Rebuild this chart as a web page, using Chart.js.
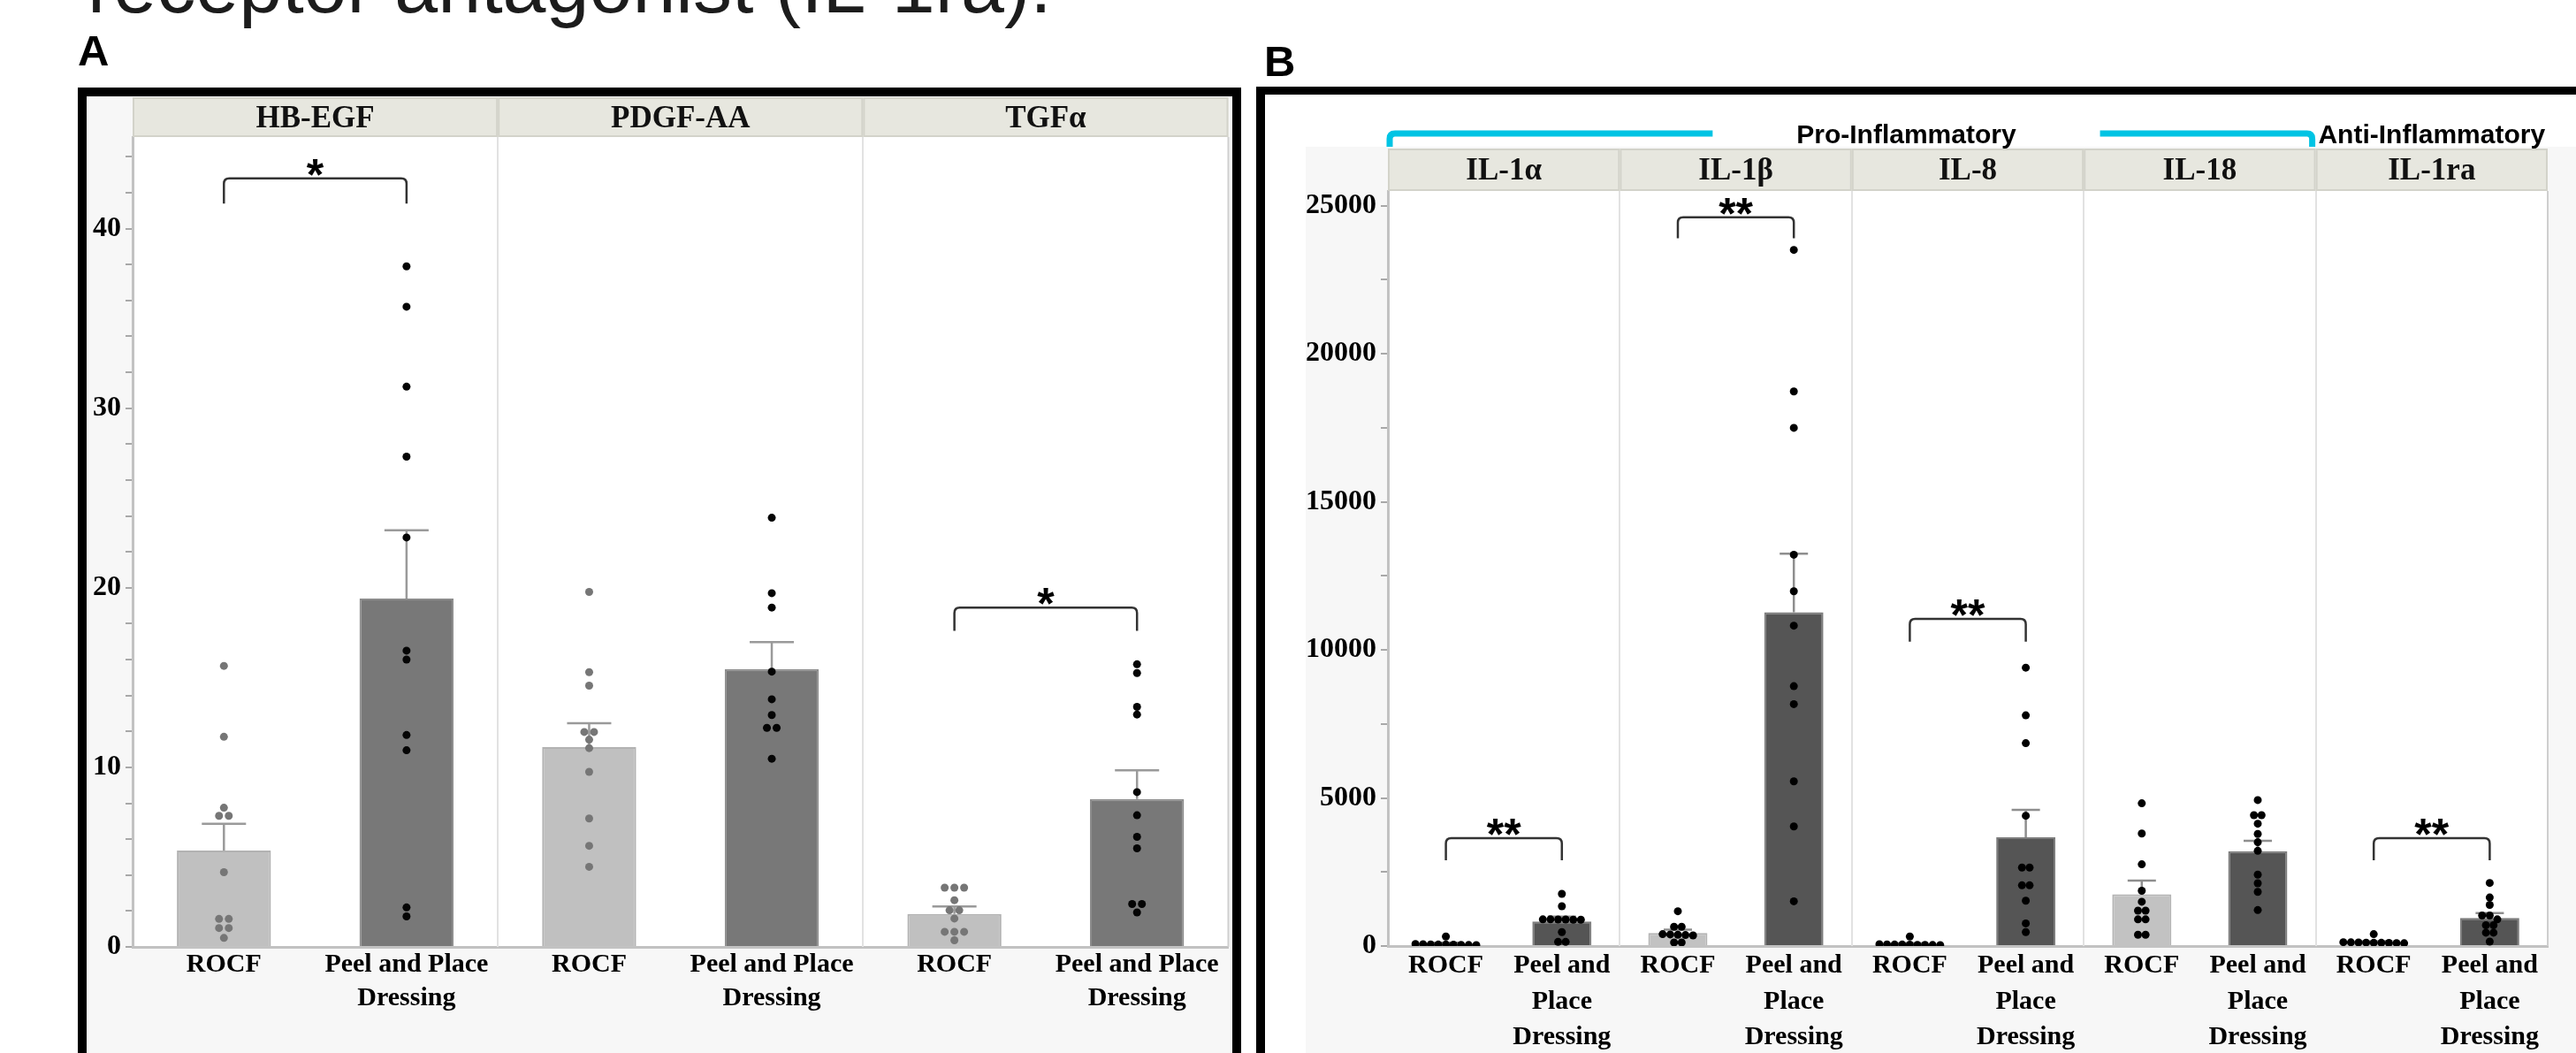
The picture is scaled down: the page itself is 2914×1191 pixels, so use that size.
<!DOCTYPE html>
<html>
<head>
<meta charset="utf-8">
<script src="https://cdn.jsdelivr.net/npm/chart.js@4.4.1/dist/chart.umd.min.js"></script>
<style>
  body { margin: 0; width: 2914px; height: 1191px; overflow: hidden; background: #fff; position: relative; }
  .abs { position: absolute; }
  #title { left: 99px; top: -60px; font: 88px/88px "Liberation Sans", Arial, sans-serif; color: #1c1c1c; white-space: nowrap; }
  .plabel { font: bold 49px/49px "Liberation Sans", Arial, sans-serif; color: #000; }
  #frameA { left: 88px; top: 99px; width: 1316px; height: 1200px; box-sizing: border-box; border: 10px solid #000; background: #f7f7f7; }
  #frameB { left: 1421px; top: 98px; width: 1600px; height: 1200px; box-sizing: border-box; border-left: 10px solid #000; border-top: 9px solid #000; background: #fff; }
  #bgB { left: 1477px; top: 166px; width: 1437px; height: 1025px; background: #f7f7f7; }
  #chartA { left: 98px; top: 108px; }
  #chartB { left: 1431px; top: 107px; }
</style>
</head>
<body>
<div id="title" class="abs">receptor antagonist (IL-1ra).</div>
<div class="abs plabel" style="left:88px;top:33px">A</div>
<div class="abs plabel" style="left:1430px;top:45px">B</div>
<div id="frameA" class="abs"></div>
<div id="frameB" class="abs"></div>
<div id="bgB" class="abs"></div>
<canvas id="chartA" class="abs" width="1296" height="1083"></canvas>
<canvas id="chartB" class="abs" width="1483" height="1084"></canvas>

<script>
// ---- Panel A: growth factors ----
const aMarkers = ['HB-EGF', 'PDGF-AA', 'TGFα'];
const aRocfMean = [5.37, 11.13, 1.84];
const aRocfSem = [1.48, 1.33, 0.41];
const aPeelMean = [19.4, 15.47, 8.23];
const aPeelSem = [3.8, 1.5, 1.61];
const aRocfPts = [
    [15.65, 11.7, 7.75, 7.3, 7.3, 4.16, 1.56, 1.56, 1.05, 1.05, 0.5],
    [19.77, 15.3, 14.55, 11.97, 11.97, 11.54, 11.07, 9.75, 7.15, 5.63, 4.46],
    [3.3, 3.3, 3.3, 2.6, 2.04, 2.04, 1.58, 0.84, 0.84, 0.84, 0.37]
];
const aPeelPts = [
    [37.9, 35.65, 31.2, 27.3, 22.8, 16.5, 16.0, 11.8, 10.95, 2.2, 1.7],
    [23.9, 19.7, 18.9, 15.33, 13.79, 12.91, 12.2, 12.2, 10.48],
    [15.74, 15.25, 13.37, 12.94, 8.62, 7.33, 6.13, 5.49, 2.39, 2.39, 1.92]
];
const aSig = ['*', '', '*'];
const aSigTop = [42.8, null, 18.9];
const aSigFoot = [41.4, null, 17.6];

// ---- Panel B: cytokines ----
const bMarkers = ['IL-1α', 'IL-1β', 'IL-8', 'IL-18', 'IL-1ra'];
const bRocfMean = [80, 440, 65, 1750, 125];
const bRocfSem = [30, 110, 28, 460, 32];
const bPeelMean = [830, 11270, 3675, 3205, 945];
const bPeelSem = [160, 1980, 925, 350, 170];
const bRocfPts = [
    [320, 70, 60, 55, 50, 50, 45, 40, 35, 30],
    [1175, 650, 650, 400, 390, 380, 370, 360, 120, 120],
    [320, 60, 55, 50, 50, 45, 40, 40, 35, 30],
    [4820, 3800, 2760, 1865, 1495, 1195, 1195, 900, 900, 380, 380],
    [400, 130, 125, 120, 115, 110, 110, 105, 100, 95]
];
const bPeelPts = [
    [1762, 1344, 900, 900, 895, 895, 890, 890, 469, 140, 140],
    [23510, 18730, 17500, 13215, 11980, 10820, 8775, 8170, 5560, 4040, 1510],
    [9400, 7790, 6850, 4400, 2650, 2650, 2050, 2050, 1530, 765, 470],
    [4930, 4420, 4420, 4130, 3785, 3505, 3215, 2410, 2120, 1830, 1215],
    [2130, 1640, 1390, 1030, 1030, 900, 700, 700, 450, 450, 150]
];
const bSig = ['**', '**', '**', '', '**'];
const bSigTop = [3645, 24615, 11050, null, 3645];
const bSigFoot = [2900, 23900, 10280, null, 2900];

const serif = '"Liberation Serif", "Times New Roman", serif';
const sans = '"Liberation Sans", Arial, sans-serif';

function makePanel(canvasId, cfg) {
    const labels = [], means = [], sems = [], fills = [], edges = [];
    cfg.markers.forEach((m, k) => {
        labels.push(cfg.rocfLabel, cfg.peelLabel);
        means.push(cfg.rocfMean[k], cfg.peelMean[k]);
        sems.push(cfg.rocfSem[k], cfg.peelSem[k]);
        fills.push(cfg.rocfFill, cfg.peelFill);
        edges.push(cfg.rocfEdge, cfg.peelEdge);
    });
    const n = labels.length;

    // tick marks every minor step, numbers only on the major ones
    const yTicks = [];
    for (let v = 0; v <= cfg.yMax; v += cfg.minorStep) yTicks.push(v);

    const dotSet = (g, color) => ({
        type: 'scatter', xAxisID: 'xd', yAxisID: 'y',
        data: cfg.points[g].flatMap((vals, k) => vals.map(v => ({ x: 2 * k + g, y: v }))),
        pointRadius: cfg.dotR, pointHoverRadius: cfg.dotR,
        pointBackgroundColor: color, pointBorderWidth: 0
    });

    const decor = {
        id: 'decor',
        beforeDraw(chart) {
            const { ctx, chartArea: a } = chart;
            ctx.save();
            ctx.fillStyle = '#fff';
            ctx.fillRect(a.left, a.top, a.right - a.left, a.bottom - a.top);
            ctx.restore();
        },
        beforeDatasetsDraw(chart) {
            const { ctx, chartArea: a } = chart, xd = chart.scales.xd;
            ctx.save();
            ctx.lineWidth = 2;
            ctx.strokeStyle = '#e2e2e2';
            for (let k = 1; k < cfg.markers.length; k++) {
                const x = Math.round(xd.getPixelForValue(2 * k - 0.5));
                ctx.beginPath(); ctx.moveTo(x, a.top); ctx.lineTo(x, a.bottom); ctx.stroke();
            }
            ctx.strokeStyle = '#cfcfcf';
            ctx.beginPath(); ctx.moveTo(a.right, a.top); ctx.lineTo(a.right, a.bottom); ctx.stroke();
            ctx.restore();
        },
        afterDatasetDraw(chart, args) {
            // error bars (mean + SEM), drawn over the bars and under the dots
            if (args.index !== 2) return;
            const { ctx } = chart, y = chart.scales.y;
            ctx.save();
            ctx.strokeStyle = cfg.errColor;
            ctx.lineWidth = 2.5;
            chart.getDatasetMeta(2).data.forEach((bar, i) => {
                const y0 = y.getPixelForValue(means[i]);
                const y1 = y.getPixelForValue(means[i] + sems[i]);
                ctx.beginPath();
                ctx.moveTo(bar.x, y0); ctx.lineTo(bar.x, y1);
                ctx.moveTo(bar.x - cfg.capW / 2, y1); ctx.lineTo(bar.x + cfg.capW / 2, y1);
                ctx.stroke();
            });
            ctx.restore();
        },
        afterDraw(chart) {
            const { ctx, chartArea: a } = chart, xd = chart.scales.xd, y = chart.scales.y;
            ctx.save();
            // header strips
            const hTop = a.top - cfg.headerH;
            cfg.markers.forEach((m, k) => {
                const x0 = xd.getPixelForValue(2 * k - 0.5), x1 = xd.getPixelForValue(2 * k + 1.5);
                ctx.fillStyle = '#e7e7df';
                ctx.fillRect(x0, hTop, x1 - x0, cfg.headerH);
                ctx.strokeStyle = '#d3d3ca';
                ctx.lineWidth = 2;
                ctx.strokeRect(x0 + 1, hTop + 1, x1 - x0 - 2, cfg.headerH - 2);
                ctx.fillStyle = '#111';
                ctx.font = 'bold ' + cfg.headerFont + 'px ' + serif;
                ctx.textAlign = 'center';
                ctx.textBaseline = 'middle';
                ctx.fillText(m, (x0 + x1) / 2, hTop + cfg.headerH / 2 + 2);
            });
            // significance brackets
            cfg.sig.forEach((s, k) => {
                if (!s) return;
                const x0 = xd.getPixelForValue(2 * k), x1 = xd.getPixelForValue(2 * k + 1);
                const yt = y.getPixelForValue(cfg.sigTop[k]), yb = y.getPixelForValue(cfg.sigFoot[k]);
                const r = 6;
                ctx.strokeStyle = '#333';
                ctx.lineWidth = 2.5;
                ctx.beginPath();
                ctx.moveTo(x0, yb); ctx.lineTo(x0, yt + r);
                ctx.quadraticCurveTo(x0, yt, x0 + r, yt);
                ctx.lineTo(x1 - r, yt);
                ctx.quadraticCurveTo(x1, yt, x1, yt + r);
                ctx.lineTo(x1, yb);
                ctx.stroke();
                ctx.fillStyle = '#000';
                ctx.font = 'bold 50px ' + sans;
                ctx.textAlign = 'center';
                ctx.textBaseline = 'alphabetic';
                ctx.fillText(s, (x0 + x1) / 2, yt + 13);
            });
            // group bracket above the headers (panel B)
            (cfg.groups || []).forEach(gr => {
                const yl = hTop - 17;
                const xl = xd.getPixelForValue(gr.from) + 2, xr = xd.getPixelForValue(gr.to) - 4;
                const g0 = xd.getPixelForValue(gr.gapFrom), g1 = xd.getPixelForValue(gr.gapTo);
                ctx.strokeStyle = '#00c4e4';
                ctx.lineWidth = 7;
                ctx.lineCap = 'butt';
                ctx.beginPath();
                ctx.moveTo(xl, hTop - 2); ctx.lineTo(xl, yl + 6);
                ctx.quadraticCurveTo(xl, yl, xl + 6, yl);
                ctx.lineTo(g0, yl);
                ctx.moveTo(g1, yl); ctx.lineTo(xr - 6, yl);
                ctx.quadraticCurveTo(xr, yl, xr, yl + 6);
                ctx.lineTo(xr, hTop - 2);
                ctx.stroke();
                ctx.fillStyle = '#000';
                ctx.font = 'bold 30px ' + sans;
                ctx.textAlign = 'center';
                ctx.textBaseline = 'alphabetic';
                ctx.fillText(gr.text, (g0 + g1) / 2, yl + 11);
            });
            (cfg.tags || []).forEach(t => {
                ctx.fillStyle = '#000';
                ctx.font = 'bold 30px ' + sans;
                ctx.textAlign = 'center';
                ctx.textBaseline = 'alphabetic';
                ctx.fillText(t.text, xd.getPixelForValue(t.at), hTop - 6);
            });
            ctx.restore();
        }
    };

    const xFont = { family: serif, weight: 'bold', size: 30, lineHeight: cfg.labelLH };
    const yFont = { family: serif, weight: 'bold', size: 32 };
    const chart = new Chart(document.getElementById(canvasId), {
        type: 'bar',
        data: {
            labels: labels,
            datasets: [
                dotSet(0, cfg.rocfDot),
                dotSet(1, cfg.peelDot),
                {
                    type: 'bar', xAxisID: 'x', yAxisID: 'y', grouped: false,
                    data: means, backgroundColor: fills, borderColor: edges, borderWidth: 2,
                    barPercentage: cfg.barPct, categoryPercentage: 1
                }
            ]
        },
        options: {
            responsive: false,
            animation: false,
            devicePixelRatio: 1,
            layout: { padding: { left: 0, top: cfg.padTop, right: cfg.padRight, bottom: 0 } },
            plugins: { legend: { display: false }, tooltip: { enabled: false } },
            scales: {
                x: {
                    type: 'category', offset: true, position: 'bottom',
                    afterFit: s => { s.height = cfg.xAxisH; },
                    grid: { display: false, drawTicks: false },
                    border: { color: '#c2c2c2', width: 3 },
                    ticks: { color: '#000', padding: 2, autoSkip: false, maxRotation: 0, font: xFont }
                },
                xd: { type: 'linear', min: -0.5, max: n - 0.5, offset: false, display: false },
                y: {
                    min: 0, max: cfg.yMax,
                    afterFit: s => { s.width = cfg.yAxisW; },
                    afterBuildTicks: s => { s.ticks = yTicks.map(v => ({ value: v })); },
                    border: { color: '#c2c2c2', width: 3 },
                    grid: { drawOnChartArea: false, drawTicks: true, tickLength: 8, color: '#a8a8a8', lineWidth: 2 },
                    ticks: {
                        autoSkip: false, padding: 5,
                        color: '#000', font: yFont,
                        callback: v => (v % cfg.majorStep === 0 ? String(v) : '')
                    }
                }
            }
        },
        plugins: [decor]
    });

    // lay the dots out side by side where they share a height (dot-plot style)
    const y = chart.scales.y, xd = chart.scales.xd;
    const unit = (xd.max - xd.min) / (xd.right - xd.left);
    [0, 1].forEach(g => {
        const pts = [];
        cfg.points[g].forEach((vals, k) => {
            const rows = [];
            [...vals].sort((p, q) => q - p).forEach(v => {
                const py = y.getPixelForValue(v);
                const row = rows[rows.length - 1];
                if (row && Math.abs(py - row.py) < cfg.rowTol) row.vals.push(v);
                else rows.push({ py: py, vals: [v] });
            });
            rows.forEach(r => r.vals.forEach((v, j) => {
                pts.push({ x: 2 * k + g + (j - (r.vals.length - 1) / 2) * cfg.spread * unit, y: v });
            }));
        });
        chart.data.datasets[g].data = pts;
    });
    chart.update('none');
    return chart;
}

makePanel('chartA', {
    markers: aMarkers,
    rocfLabel: 'ROCF', peelLabel: ['Peel and Place', 'Dressing'],
    rocfMean: aRocfMean, rocfSem: aRocfSem, peelMean: aPeelMean, peelSem: aPeelSem,
    points: [aRocfPts, aPeelPts],
    sig: aSig, sigTop: aSigTop, sigFoot: aSigFoot,
    rocfFill: '#c0c0c0', rocfEdge: '#b2b2b2', peelFill: '#787878', peelEdge: '#8c8c8c',
    rocfDot: '#767676', peelDot: '#050505',
    errColor: '#9a9a9a', capW: 50,
    dotR: 4.5, spread: 11, rowTol: 5,
    barPct: 0.515,
    yMax: 45.1, minorStep: 2, majorStep: 10,
    padTop: 47, padRight: 4, xAxisH: 120, yAxisW: 52,
    headerH: 45, headerFont: 35, labelLH: 1.24
});

makePanel('chartB', {
    markers: bMarkers,
    rocfLabel: 'ROCF', peelLabel: ['Peel and', 'Place', 'Dressing'],
    rocfMean: bRocfMean, rocfSem: bRocfSem, peelMean: bPeelMean, peelSem: bPeelSem,
    points: [bRocfPts, bPeelPts],
    sig: bSig, sigTop: bSigTop, sigFoot: bSigFoot,
    rocfFill: '#c2c2c2', rocfEdge: '#b4b4b4', peelFill: '#555555', peelEdge: '#7c7c7c',
    rocfDot: '#000', peelDot: '#000',
    errColor: '#8e8e8e', capW: 32,
    dotR: 4.5, spread: 8.6, rowTol: 5,
    barPct: 0.51,
    yMax: 25500, minorStep: 2500, majorStep: 5000,
    padTop: 109, padRight: 32, xAxisH: 121, yAxisW: 139,
    headerH: 48, headerFont: 35, labelLH: 1.35,
    groups: [{ text: 'Pro-Inflammatory', from: -0.5, to: 7.5, gapFrom: 2.3, gapTo: 5.64 }],
    tags: [{ text: 'Anti-Inflammatory', at: 8.5 }]
});
</script>
</body>
</html>
